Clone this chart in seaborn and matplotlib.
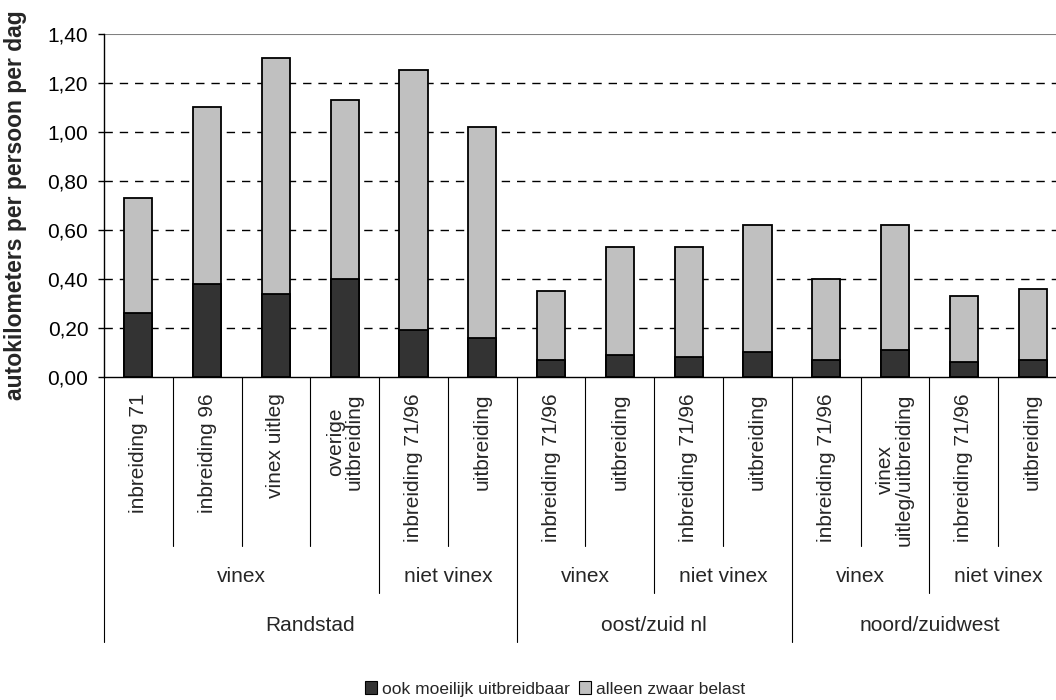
import matplotlib
matplotlib.use("Agg")
import matplotlib.pyplot as plt
from matplotlib.patches import Patch
from matplotlib.ticker import FuncFormatter
import seaborn as sns
import pandas as pd

# Categories (three levels) and the two stacked series
segment = ["inbreiding 71", "inbreiding 96", "vinex uitleg", "overige\nuitbreiding",
           "inbreiding 71/96", "uitbreiding",
           "inbreiding 71/96", "uitbreiding", "inbreiding 71/96", "uitbreiding",
           "inbreiding 71/96", "vinex\nuitleg/uitbreiding", "inbreiding 71/96", "uitbreiding"]
vinex_groups = [("vinex", 0, 3), ("niet vinex", 4, 5),
                ("vinex", 6, 7), ("niet vinex", 8, 9),
                ("vinex", 10, 11), ("niet vinex", 12, 13)]
regions = [("Randstad", 0, 5), ("oost/zuid nl", 6, 9), ("noord/zuidwest", 10, 13)]

moeilijk = [0.26, 0.38, 0.34, 0.40, 0.19, 0.16, 0.07, 0.09, 0.08, 0.10, 0.07, 0.11, 0.06, 0.07]
zwaar = [0.47, 0.72, 0.96, 0.73, 1.06, 0.86, 0.28, 0.44, 0.45, 0.52, 0.33, 0.51, 0.27, 0.29]

yticks = [0.0, 0.2, 0.4, 0.6, 0.8, 1.0, 1.2, 1.4]

label_moeilijk = "ook moeilijk uitbreidbaar"
label_zwaar = "alleen zwaar belast"
ylabel = "autokilometers per persoon per dag"

DARK = "#333333"
LIGHT = "#C0C0C0"
FS = 15

sns.set_theme(style="white")
plt.rcParams["font.family"] = ["Liberation Sans", "DejaVu Sans"]

df = pd.DataFrame({
    "pos": list(range(len(segment))),
    "moeilijk": moeilijk,
    "zwaar": zwaar,
})
df["totaal"] = df["moeilijk"] + df["zwaar"]

fig = plt.figure(figsize=(10.56, 7.0), dpi=100)
ax = fig.add_axes([104 / 1056, 1 - 377 / 700, 963 / 1056, 343.5 / 700])

# gridlines behind bars
for v in yticks[1:-1]:
    ax.axhline(v, color="black", lw=1.0, ls=(0, (6, 5)), zorder=0)
ax.axhline(yticks[-1], color="#808080", lw=1.5, zorder=0)

bar_w = 0.41
sns.barplot(data=df, x="pos", y="totaal", color=LIGHT, saturation=1, width=bar_w,
            edgecolor="black", linewidth=1.3, ax=ax, zorder=2)
sns.barplot(data=df, x="pos", y="moeilijk", color=DARK, saturation=1, width=bar_w,
            edgecolor="black", linewidth=1.3, ax=ax, zorder=3)

ax.set_xlim(-0.5, len(segment) - 0.5)
ax.set_ylim(0, 1.4)
ax.set_yticks(yticks)
ax.yaxis.set_major_formatter(FuncFormatter(lambda v, p: f"{v:.2f}".replace(".", ",")))
ax.tick_params(axis="y", which="major", left=True, length=4.3, width=1, color="black",
               labelsize=FS, pad=7, labelcolor="black")
ax.set_xticks([])
ax.set_xlabel("")
ax.set_ylabel("")
for s in ["top", "right"]:
    ax.spines[s].set_visible(False)
for s in ["left", "bottom"]:
    ax.spines[s].set_color("black")
    ax.spines[s].set_linewidth(1.0)

fig.text(16 / 1056, 1 - 205 / 700, ylabel, rotation=90, ha="center", va="center",
         fontsize=16.5, fontweight="bold")

# hierarchical category table below the axis
trans = ax.get_xaxis_transform()
y_l1, y_l2, y_l3 = -0.491, -0.629, -0.771
for i, lab in enumerate(segment):
    ax.text(i, -0.047, lab, rotation=90, ha="center", va="top", fontsize=FS,
            multialignment="center", linespacing=1.0, transform=trans, clip_on=False)

group_ends = {e for _, _, e in vinex_groups}
region_ends = {e for _, _, e in regions}
ax.plot([-0.5, -0.5], [0, y_l3], color="black", lw=0.8, transform=trans, clip_on=False)
for i in range(len(segment)):
    if i in region_ends:
        y_end = y_l3
    elif i in group_ends:
        y_end = y_l2
    else:
        y_end = y_l1
    ax.plot([i + 0.5, i + 0.5], [0, y_end], color="black", lw=0.8,
            transform=trans, clip_on=False)

for name, a, b in vinex_groups:
    ax.text((a + b) / 2, -0.582, name, ha="center", va="center", fontsize=FS,
            transform=trans, clip_on=False)
for name, a, b in regions:
    ax.text((a + b) / 2, -0.722, name, ha="center", va="center", fontsize=FS,
            transform=trans, clip_on=False)

handles = [Patch(facecolor=DARK, edgecolor="black", lw=0.8, label=label_moeilijk),
           Patch(facecolor=LIGHT, edgecolor="black", lw=0.8, label=label_zwaar)]
fig.legend(handles=handles, loc="center left", bbox_to_anchor=(365 / 1056, 1 - 689 / 700),
           ncol=2, frameon=False, fontsize=12.5, handlelength=0.7, handleheight=0.7,
           handletextpad=0.3, columnspacing=0.5, borderaxespad=0, borderpad=0)

fig.savefig("out.png", dpi=100)
